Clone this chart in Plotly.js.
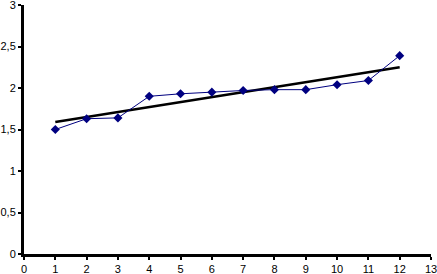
<!DOCTYPE html>
<html><head><meta charset="utf-8">
<script src="https://cdn.plot.ly/plotly-3.0.1.min.js"></script>
<style>html,body{margin:0;padding:0;background:#fff}#chart{width:437px;height:274px}</style>
</head><body><div id="chart"></div>
<script>
const xValues = [1,2,3,4,5,6,7,8,9,10,11,12];
const yValues = [1.50,1.63,1.64,1.90,1.93,1.95,1.97,1.98,1.98,2.04,2.09,2.39];
const trendX = [1,12];
const trendY = [1.59,2.25];
const xTicks = [0,1,2,3,4,5,6,7,8,9,10,11,12,13];
const yTicks = [0,0.5,1,1.5,2,2.5,3];

const data = [
  {x: trendX, y: trendY, type:'scatter', mode:'lines', line:{color:'#000000', width:2.5}, hoverinfo:'skip'},
  {x: xValues, y: yValues, type:'scatter', mode:'lines+markers',
   line:{color:'#000080', width:1}, marker:{symbol:'diamond', size:7, color:'#000080'}}
];
const layout = {
  width:437, height:274, showlegend:false,
  margin:{l:24, r:6, t:5, b:20},
  paper_bgcolor:'#fff', plot_bgcolor:'#fff',
  separators: ',.',
  font:{family:'Liberation Sans, Arial, sans-serif', size:11, color:'#000'},
  xaxis:{range:[0,13], tickmode:'array', tickvals:xTicks, showgrid:false, zeroline:false, showline:true, linecolor:'#000', linewidth:3,
         ticks:'outside', ticklen:3, tickwidth:2, tickcolor:'#000', ticklabeloverflow:'allow'},
  yaxis:{range:[0,3], tickmode:'array', tickvals:yTicks, showgrid:false, zeroline:false, showline:true, linecolor:'#000', linewidth:3,
         ticks:'outside', ticklen:3, tickwidth:2, tickcolor:'#000', ticklabeloverflow:'allow'}
};
Plotly.newPlot('chart', data, layout, {staticPlot:true, displayModeBar:false});
</script></body></html>
